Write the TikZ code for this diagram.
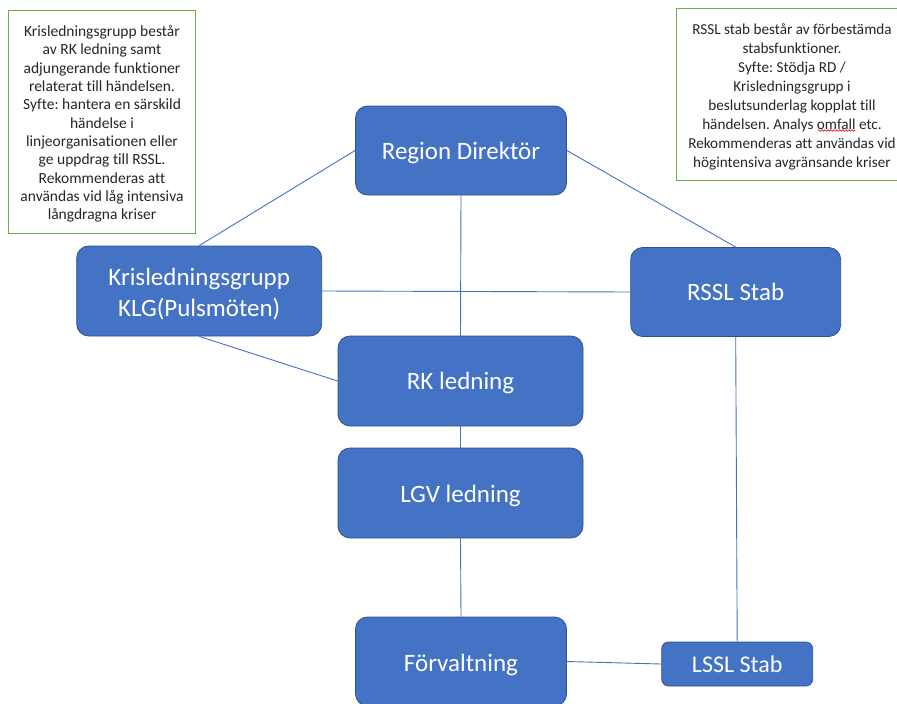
\documentclass[tikz,border=0pt]{standalone}
\usepackage{fontspec}
\setmainfont{Carlito}[Ligatures=NoCommon]
\usetikzlibrary{decorations.pathmorphing}
\definecolor{boxblue}{HTML}{4472C4}
\definecolor{boxedge}{HTML}{2F528F}
\definecolor{notegreen}{HTML}{70AD47}
\newcommand\lowertext[2]{\raisebox{-#1}[\height][\depth]{#2}}
\begin{document}
\frenchspacing
\begin{tikzpicture}[x=1pt,y=-1pt,
  orgbox/.style={draw=boxedge, line width=0.8pt, fill=boxblue, rounded corners=12pt,
    text=white, font=\fontsize{25}{31}\selectfont, align=center, inner sep=0pt},
  smallbox/.style={orgbox, rounded corners=7pt, font=\fontsize{24}{28}\selectfont},
  link/.style={draw=boxblue, line width=0.9pt},
  note/.style={draw=notegreen, line width=0.9pt, fill=white, inner sep=0pt},
  notetext/.style={align=center, font=\fontsize{15.5}{18.3}\selectfont, inner sep=0pt, text=black!85}
]
\useasboundingbox (0,0) rectangle (897,704);
\clip (0,0) rectangle (897,704);
\fill[white] (0,0) rectangle (897,704);

% notes
\node[note, minimum width=187pt, minimum height=223pt] (leftnote) at (101.5,121.5) {};
\node[notetext, anchor=north] (lefttext) at (102,25.5) {Krisledningsgrupp består\\av RK ledning samt\\adjungerande funktioner\\relaterat till händelsen.\\Syfte: hantera en särskild\\händelse i\\linjeorganisationen eller\\ge uppdrag till RSSL.\\Rekommenderas att\\användas vid låg intensiva\\långdragna kriser};

\node[note, minimum width=232pt, minimum height=172pt] (rightnote) at (792,94) {};
\node[notetext, anchor=north, font=\fontsize{15.2}{19.0}\selectfont] (righttext) at (792,23.5) {RSSL stab består av förbestämda\\stabsfunktioner.\\Syfte: Stödja RD /\\Krisledningsgrupp i\\beslutsunderlag kopplat till\\händelsen. Analys omfall etc.\\Rekommenderas att användas vid\\högintensiva avgränsande kriser};

% boxes
\node[orgbox, minimum width=211pt, minimum height=89pt] (rd) at (461,150.5) {\lowertext{2pt}{Region Direktör}};
\node[orgbox, minimum width=245pt, minimum height=90pt] (klg) at (199.2,291) {\lowertext{4pt}{\begin{tabular}{@{}c@{}}Krisledningsgrupp\\KLG(Pulsmöten)\end{tabular}}};
\node[orgbox, minimum width=210pt, minimum height=89pt] (rssl) at (735.7,292) {RSSL Stab};
\node[orgbox, minimum width=245pt, minimum height=90pt] (rk) at (460.5,381) {\lowertext{2pt}{RK ledning}};
\node[orgbox, minimum width=245pt, minimum height=90pt] (lgv) at (460.5,493) {\lowertext{2.5pt}{LGV ledning}};
\node[orgbox, minimum width=211pt, minimum height=89pt] (forv) at (461,661.5) {\lowertext{3pt}{Förvaltning}};
\node[smallbox, minimum width=151pt, minimum height=44pt] (lssl) at (737.2,664) {LSSL Stab};

% connectors
\draw[link] (rd.west) -- (klg.north);
\draw[link] (rd.east) -- (rssl.north);
\draw[link] (rd.south) -- (rk.north);
\draw[link] (klg.east) -- (rssl.west);
\draw[link] (klg.south) -- (rk.west);
\draw[link] (rk.south) -- (lgv.north);
\draw[link] (lgv.south) -- (forv.north);
\draw[link] (rssl.south) -- (lssl.north);
\draw[link] (forv.east) -- (lssl.west);

% spell-check squiggle under "omfall"
\coordinate (sqa) at (818,130.5);
\coordinate (sqb) at (855,130.5);
\draw[red!85!black, line width=0.6pt, decorate, decoration={snake, amplitude=0.8pt, segment length=3pt}] (sqa) -- (sqb);
\end{tikzpicture}
\end{document}
